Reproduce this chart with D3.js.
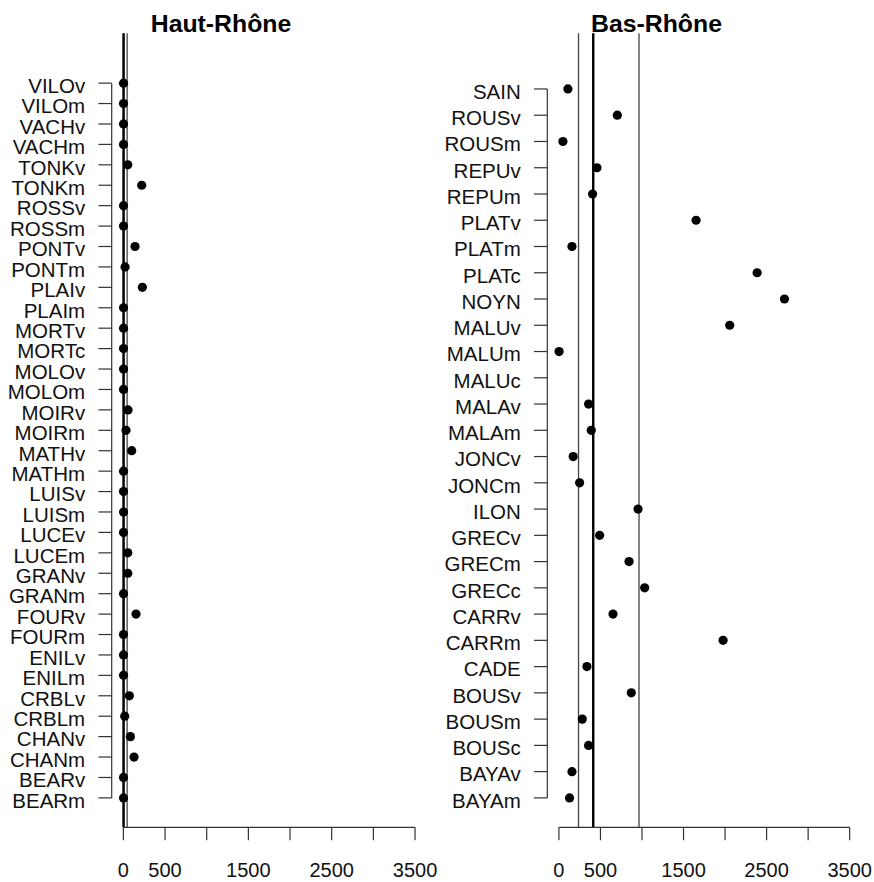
<!DOCTYPE html>
<html>
<head>
<meta charset="utf-8">
<script src="https://cdn.jsdelivr.net/npm/d3@7"></script>
<style>
  html, body { margin: 0; padding: 0; background: #fff; }
  svg { display: block; }
  text { font-family: "Liberation Sans", Arial, sans-serif; }
</style>
</head>
<body>
<div id="chart"></div>
<script>
// ---- data (categories listed top to bottom as in the picture) ----
const hautCategories = ["VILOv","VILOm","VACHv","VACHm","TONKv","TONKm","ROSSv","ROSSm","PONTv","PONTm",
  "PLAIv","PLAIm","MORTv","MORTc","MOLOv","MOLOm","MOIRv","MOIRm","MATHv","MATHm","LUISv","LUISm",
  "LUCEv","LUCEm","GRANv","GRANm","FOURv","FOURm","ENILv","ENILm","CRBLv","CRBLm","CHANv","CHANm",
  "BEARv","BEARm"];
const hautValues = [2,2,2,2,53,220,2,2,140,20,
  228,2,2,2,2,2,56,32,100,2,2,2,
  2,53,53,2,152,2,2,2,72,16,84,128,
  2,2];
const hautRefLines = [0, 45];      // thin lines
const hautMedian = 3;              // thick line

const basCategories = ["SAIN","ROUSv","ROUSm","REPUv","REPUm","PLATv","PLATm","PLATc","NOYN","MALUv",
  "MALUm","MALUc","MALAv","MALAm","JONCv","JONCm","ILON","GRECv","GRECm","GRECc","CARRv","CARRm",
  "CADE","BOUSv","BOUSm","BOUSc","BAYAv","BAYAm"];
const basValues = [108,703,48,458,405,1651,157,2386,2715,2056,
  2,null,357,389,172,249,952,490,844,1032,651,1976,
  337,871,281,357,157,128];
const basRefLines = [236, 964];
const basMedian = 413;

const xTicks = [0,500,1000,1500,2000,2500,3000,3500];
const xTickLabels = ["0","500","","1500","","2500","","3500"];
const xLimits = [0, 3500];

// ---- layout ----
const W = 874, H = 882;
const plotTop = 33.3, plotBottom = 827.3;

const svg = d3.select("#chart").append("svg").attr("width", W).attr("height", H);

function panel(opts) {
  const { title, titleX, cats, vals, refLines, median, left, right } = opts;
  const n = cats.length;
  const ext = (xLimits[1] - xLimits[0]) * 0.04;
  const x = d3.scaleLinear().domain([xLimits[0] - ext, xLimits[1] + ext]).range([left, right]);
  const y = d3.scaleLinear().domain([-0.04 * n, n * 1.04]).range([plotBottom, plotTop]);
  const g = svg.append("g");
  const idx = (i) => n - 1 - i; // top-listed category at top

  // reference lines
  g.selectAll("line.ref").data(refLines).join("line")
    .attr("x1", d => x(d)).attr("x2", d => x(d))
    .attr("y1", plotTop).attr("y2", plotBottom)
    .attr("stroke", "#444").attr("stroke-width", 1.3);
  g.append("line")
    .attr("x1", x(median)).attr("x2", x(median))
    .attr("y1", plotTop).attr("y2", plotBottom)
    .attr("stroke", "#000").attr("stroke-width", 2.4);

  // y axis
  const yAxis = g.append("g").attr("stroke", "#333").attr("fill", "none");
  yAxis.append("line")
    .attr("x1", left).attr("x2", left)
    .attr("y1", y(0)).attr("y2", y(n - 1)).attr("stroke-width", 1.2);
  yAxis.selectAll("line.tk").data(cats).join("line").attr("class", "tk")
    .attr("x1", left - 13.3).attr("x2", left)
    .attr("y1", (d, i) => y(idx(i))).attr("y2", (d, i) => y(idx(i))).attr("stroke-width", 1.2);
  g.selectAll("text.cat").data(cats).join("text").attr("class", "cat")
    .attr("x", left - 26.5).attr("y", (d, i) => y(idx(i)) + 9.8)
    .attr("text-anchor", "end").attr("font-size", 20.5).attr("fill", "#111")
    .text(d => d);

  // x axis
  const xg = g.append("g").attr("stroke", "#333").attr("fill", "none");
  xg.append("line").attr("x1", x(xTicks[0])).attr("x2", x(xTicks[xTicks.length - 1]))
    .attr("y1", plotBottom).attr("y2", plotBottom).attr("stroke-width", 1.2);
  xg.selectAll("line.xt").data(xTicks).join("line").attr("class", "xt")
    .attr("x1", d => x(d)).attr("x2", d => x(d))
    .attr("y1", plotBottom).attr("y2", plotBottom + 13).attr("stroke-width", 1.2);
  g.selectAll("text.xl").data(xTicks).join("text").attr("class", "xl")
    .attr("x", d => x(d)).attr("y", 876.5)
    .attr("text-anchor", "middle").attr("font-size", 20).attr("fill", "#111")
    .text((d, i) => xTickLabels[i]);

  // points
  g.selectAll("circle.pt").data(vals.map((v, i) => ({ v, i })).filter(d => d.v != null)).join("circle")
    .attr("class", "pt")
    .attr("cx", d => x(d.v)).attr("cy", d => y(idx(d.i)))
    .attr("r", 4.6).attr("fill", "#000");

  // title
  svg.append("text").attr("x", titleX).attr("y", 31.5)
    .attr("text-anchor", "middle").attr("font-size", 24.8).attr("font-weight", "bold")
    .attr("fill", "#000").text(title);
}

panel({ title: "Haut-Rhône", titleX: 221, cats: hautCategories, vals: hautValues,
        refLines: hautRefLines, median: hautMedian, left: 111.7, right: 426.7 });
panel({ title: "Bas-Rhône", titleX: 656.5, cats: basCategories, vals: basValues,
        refLines: basRefLines, median: basMedian, left: 547.3, right: 861.3 });
</script>
</body>
</html>
